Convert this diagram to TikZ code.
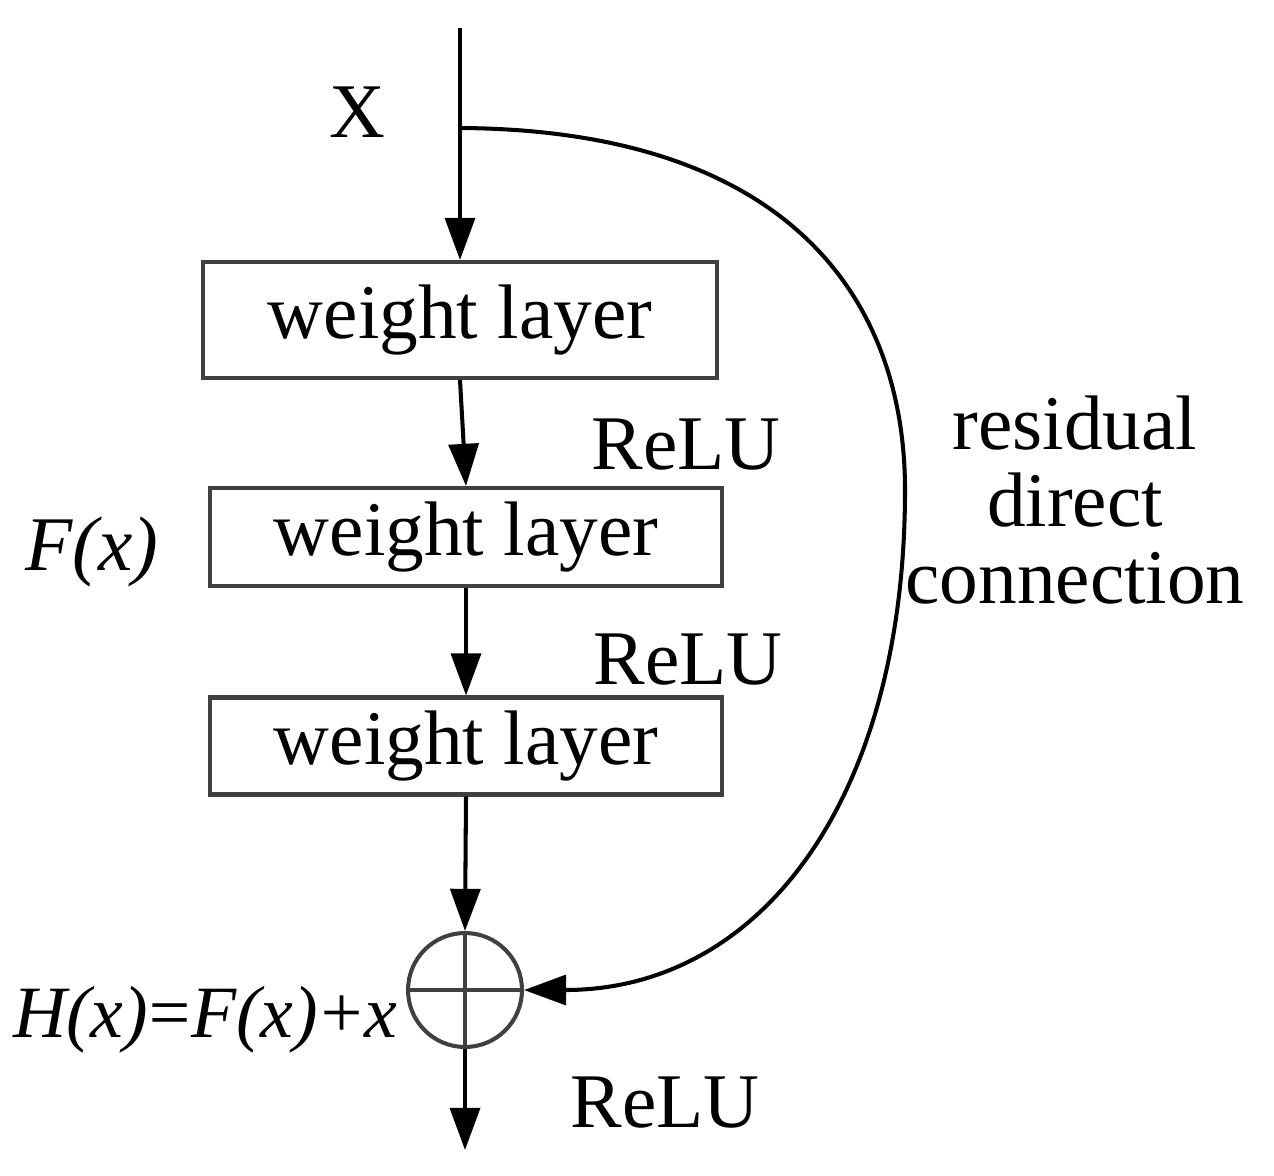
\documentclass[tikz,border=0pt]{standalone}
\usepackage{fontspec}
\setmainfont{Liberation Serif}
\usetikzlibrary{arrows.meta,positioning}
\begin{document}
\begin{tikzpicture}[x=0.02cm,y=-0.02cm,
    every node/.style={font=\fontsize{44}{50}\selectfont},
    layer/.style={draw=black!75,line width=2.3pt,minimum width=10.3cm,minimum height=2cm,inner sep=0pt},
    flow/.style={line width=2.3pt,-{Triangle[length=24pt,width=17pt]}}]
  \useasboundingbox (0,0) rectangle (1274,1176);
  % blocks
  \coordinate (top) at (460,28);
  \node[layer,minimum height=2.32cm] (wl1) at (460,320) {weight layer};
  \node[layer,minimum width=10.24cm,minimum height=1.96cm] (wl2) at (466,537) {weight layer};
  \node[layer,minimum width=10.24cm,minimum height=1.94cm] (wl3) at (466,746) {weight layer};
  \node[draw=black!75,line width=2.3pt,circle,minimum size=2.28cm,inner sep=0pt] (add) at (465,990) {};
  \draw[line width=2.3pt,black!75] (add.west) -- (add.east) (add.north) -- (add.south);
  \coordinate (out) at (465,1150);
  \coordinate (split) at (460,128);
  % labels
  \node (x) at (357,112) {X};
  \node (relu1) at (686,445) {ReLU};
  \node (relu2) at (688,660) {ReLU};
  \node (relu3) at (665,1103) {ReLU};
  \node (fx) at (92,552) {\itshape F(x)};
  \node[font=\fontsize{42}{50}\selectfont,inner sep=0pt] (hx) at (205,1020) {\itshape H(x)\kern-2pt=\kern-2pt F(x)\kern-1pt+\kern-1pt x};
  \node[align=center,font=\fontsize{44}{44}\selectfont] (res) at (1075,500) {residual\\direct\\connection};
  % connectors
  \draw[flow] (top) -- (wl1.north);
  \draw[flow] (wl1.south) -- (wl2.north);
  \draw[flow] (wl2.south) -- (wl3.north);
  \draw[flow] (wl3.south) -- (add.north);
  \draw[flow] (add.south) -- (out);
  \draw[flow] (split) .. controls (790,130) and (905,300) .. (905,490)
    .. controls (905,800) and (760,990) .. (add.east);
\end{tikzpicture}
\end{document}
